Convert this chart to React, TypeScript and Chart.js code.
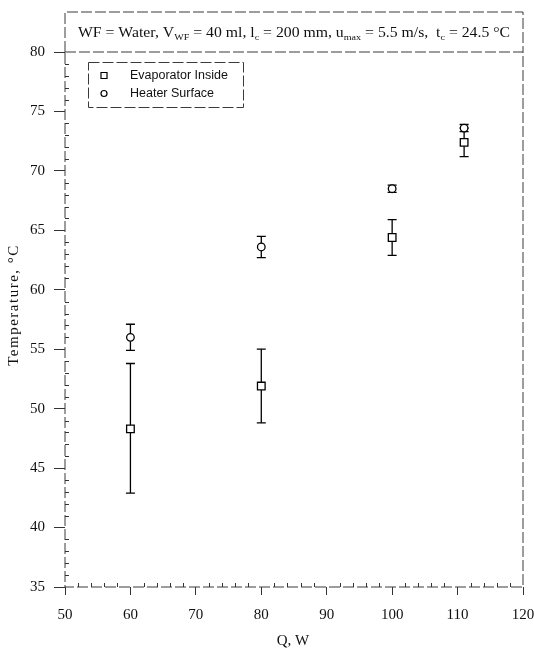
import React, { useEffect, useRef } from 'react';
import { Chart, registerables } from 'chart.js';

Chart.register(...registerables);

// ---- data ----
const heatInput = [60, 80, 100, 111];
const evaporatorInside = [48.3, 51.9, 64.4, 72.4];
const evaporatorLow = [42.9, 48.8, 62.9, 71.2];
const evaporatorHigh = [53.8, 55.0, 65.9, 73.6];
const heaterSurface = [56.0, 63.6, 68.5, 73.6];
const heaterLow = [54.9, 62.7, 68.2, 73.3];
const heaterHigh = [57.1, 64.5, 68.8, 73.9];
const seriesLabels = ['Evaporator Inside', 'Heater Surface'];
const xTitle = 'Q, W';
const yTitle = 'Temperature, \u00B0C';
// [text, isSubscript]
const titleParts: [string, boolean][] = [
  ['WF = Water, V', false],
  ['WF', true],
  [' = 40 ml, l', false],
  ['c', true],
  [' = 200 mm, u', false],
  ['max', true],
  [' = 5.5 m/s,  t', false],
  ['c', true],
  [' = 24.5 \u00B0C', false],
];

const SERIF = "'Liberation Serif', 'Times New Roman', serif";
const SANS = "'Liberation Sans', Arial, sans-serif";
const INK = '#111';
const FRAME = '#3a3a3a';

const errorBars = [
  { lo: evaporatorLow, hi: evaporatorHigh },
  { lo: heaterLow, hi: heaterHigh },
];

const decorPlugin = {
  id: 'decor',
  beforeDatasetsDraw(chart: any) {
    const { ctx, chartArea: a, scales } = chart;
    const x = scales.x;
    const y = scales.y;
    ctx.save();
    // frame
    ctx.strokeStyle = FRAME;
    ctx.lineWidth = 1;
    ctx.setLineDash([11, 3]);
    ctx.strokeRect(a.left, a.top, a.right - a.left, a.bottom - a.top);
    // top title box
    ctx.beginPath();
    ctx.moveTo(a.left, a.top);
    ctx.lineTo(a.left, 12);
    ctx.lineTo(a.right, 12);
    ctx.lineTo(a.right, a.top);
    ctx.stroke();
    ctx.setLineDash([]);
    // minor ticks
    ctx.strokeStyle = '#333';
    ctx.beginPath();
    for (let v = 36; v < 80; v++) {
      if (v % 5 === 0) continue;
      const py = Math.round(y.getPixelForValue(v)) + 0.5;
      ctx.moveTo(a.left, py);
      ctx.lineTo(a.left + 4, py);
    }
    for (let v = 52; v < 120; v += 2) {
      if (v % 10 === 0) continue;
      const px = Math.round(x.getPixelForValue(v)) + 0.5;
      ctx.moveTo(px, a.bottom);
      ctx.lineTo(px, a.bottom - 4);
    }
    ctx.stroke();
    // error bars
    ctx.strokeStyle = '#000';
    ctx.lineWidth = 1.3;
    errorBars.forEach((eb) => {
      heatInput.forEach((q, j) => {
        const px = x.getPixelForValue(q);
        const pLo = y.getPixelForValue(eb.lo[j]);
        const pHi = y.getPixelForValue(eb.hi[j]);
        ctx.beginPath();
        ctx.moveTo(px, pLo);
        ctx.lineTo(px, pHi);
        ctx.moveTo(px - 4.5, pLo);
        ctx.lineTo(px + 4.5, pLo);
        ctx.moveTo(px - 4.5, pHi);
        ctx.lineTo(px + 4.5, pHi);
        ctx.stroke();
      });
    });
    ctx.restore();
  },
  afterDraw(chart: any) {
    const { ctx, chartArea: a } = chart;
    ctx.save();
    ctx.fillStyle = INK;
    // title text with subscripts, fitted to the box width
    const mainFont = `14px ${SERIF}`;
    const subFont = `9px ${SERIF}`;
    let total = 0;
    titleParts.forEach(([t, sub]) => {
      ctx.font = sub ? subFont : mainFont;
      total += ctx.measureText(t).width;
    });
    const target = 432;
    const sx = target / total;
    ctx.translate(a.left + 13, 37);
    ctx.scale(sx, 1);
    ctx.textBaseline = 'alphabetic';
    ctx.textAlign = 'left';
    let cx = 0;
    titleParts.forEach(([t, sub]) => {
      ctx.font = sub ? subFont : mainFont;
      ctx.fillText(t, cx, sub ? 3 : 0);
      cx += ctx.measureText(t).width;
    });
    ctx.restore();

    // legend
    ctx.save();
    const lx = 88, ly = 62, lw = 155, lh = 45;
    ctx.strokeStyle = FRAME;
    ctx.lineWidth = 1;
    ctx.setLineDash([11, 3]);
    ctx.strokeRect(lx + 0.5, ly + 0.5, lw, lh);
    ctx.setLineDash([]);
    ctx.strokeStyle = '#000';
    ctx.lineWidth = 1.2;
    ctx.fillStyle = '#fff';
    // square marker
    ctx.beginPath();
    ctx.rect(104 - 3, 75.5 - 3, 6, 6);
    ctx.fill();
    ctx.stroke();
    // circle marker
    ctx.beginPath();
    ctx.arc(104, 93.5, 3, 0, Math.PI * 2);
    ctx.fill();
    ctx.stroke();
    ctx.fillStyle = INK;
    ctx.font = `12.5px ${SANS}`;
    ctx.textBaseline = 'middle';
    ctx.textAlign = 'left';
    ctx.fillText(seriesLabels[0], 130, 75.5);
    ctx.fillText(seriesLabels[1], 130, 93.5);
    ctx.restore();

    // axis titles
    ctx.save();
    ctx.fillStyle = INK;
    ctx.font = `15px ${SERIF}`;
    ctx.textAlign = 'center';
    ctx.textBaseline = 'middle';
    ctx.fillText(xTitle, 293, 641);
    ctx.translate(14, 305);
    ctx.rotate(-Math.PI / 2);
    (ctx as any).letterSpacing = '1.5px';
    ctx.fillText(yTitle, 0, 0);
    ctx.restore();
  },
};

export default function App() {
  const ref = useRef<HTMLCanvasElement | null>(null);
  useEffect(() => {
    document.body.style.margin = '0';
    const canvas = ref.current;
    if (!canvas) return;
    const chart = new Chart(canvas, {
      type: 'scatter',
      data: {
        datasets: [
          {
            label: seriesLabels[0],
            data: heatInput.map((q, i) => ({ x: q, y: evaporatorInside[i] })),
            pointStyle: 'rect',
            pointRadius: 5.4,
            pointBorderWidth: 1.3,
            pointBorderColor: '#000',
            pointBackgroundColor: '#fff',
            showLine: false,
          },
          {
            label: seriesLabels[1],
            data: heatInput.map((q, i) => ({ x: q, y: heaterSurface[i] })),
            pointStyle: 'circle',
            pointRadius: 3.8,
            pointBorderWidth: 1.3,
            pointBorderColor: '#000',
            pointBackgroundColor: '#fff',
            showLine: false,
          },
        ],
      },
      options: {
        animation: false,
        responsive: false,
        devicePixelRatio: 1,
        layout: { padding: { top: 52, right: 11, left: 0, bottom: 0 } },
        plugins: { legend: { display: false }, tooltip: { enabled: false } },
        scales: {
          x: {
            type: 'linear',
            min: 50,
            max: 120,
            ticks: { stepSize: 10, color: INK, font: { family: SERIF, size: 15 }, padding: 11 },
            grid: { drawOnChartArea: false, drawTicks: true, tickLength: 8, color: '#333' },
            border: { display: false },
            afterFit: (s: any) => {
              s.height = 62;
              s.paddingLeft = 0;
              s.paddingRight = 0;
            },
          },
          y: {
            type: 'linear',
            min: 35,
            max: 80,
            ticks: { stepSize: 5, color: INK, font: { family: SERIF, size: 15 }, padding: 9 },
            grid: { drawOnChartArea: false, drawTicks: true, tickLength: 11, color: '#333' },
            border: { display: false },
            afterFit: (s: any) => {
              s.width = 65;
              s.paddingTop = 0;
              s.paddingBottom = 0;
            },
          },
        },
      } as any,
      plugins: [decorPlugin],
    });
    return () => chart.destroy();
  }, []);
  return (
    <div style={{ position: 'absolute', left: 0, top: 0, width: 534, height: 649, background: '#fff' }}>
      <canvas ref={ref} width={534} height={649} />
    </div>
  );
}
